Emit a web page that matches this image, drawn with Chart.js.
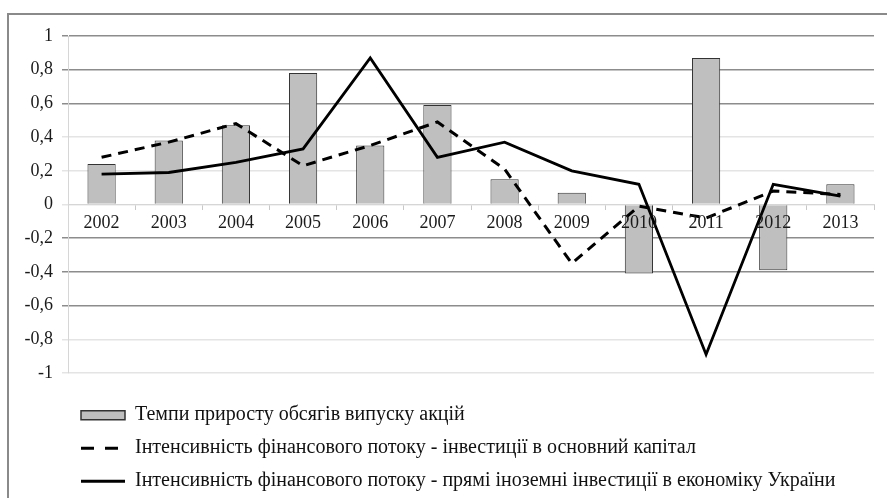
<!DOCTYPE html>
<html>
<head>
<meta charset="utf-8">
<script src="https://cdn.jsdelivr.net/npm/chart.js@4.4.1/dist/chart.umd.min.js"></script>
<style>
  html, body { margin: 0; padding: 0; background: #fff; overflow: hidden; }
  #frame {
    position: absolute; left: 7px; top: 13px; width: 900px; height: 500px;
    border-left: 2px solid #8a8a8a; border-top: 2px solid #8a8a8a;
  }
  #chart { position: absolute; left: 0; top: 0; }
</style>
</head>
<body>
<div id="frame"></div>
<canvas id="chart" width="887" height="498"></canvas>
<script>
const years = ["2002", "2003", "2004", "2005", "2006", "2007", "2008", "2009", "2010", "2011", "2012", "2013"];
const sharesGrowth = [0.24, 0.38, 0.47, 0.78, 0.35, 0.59, 0.15, 0.07, -0.41, 0.87, -0.39, 0.12];
const fixedCapital = [0.28, 0.37, 0.48, 0.23, 0.35, 0.49, 0.21, -0.35, -0.01, -0.08, 0.08, 0.06];
const foreignInvest = [0.18, 0.19, 0.25, 0.33, 0.87, 0.28, 0.37, 0.20, 0.12, -0.89, 0.12, 0.05];

const seriesNames = [
    "Темпи приросту обсягів випуску акцій",
    "Інтенсивність фінансового потоку - інвестиції в основний капітал",
    "Інтенсивність фінансового потоку - прямі іноземні інвестиції в економіку України"
];

// gridlines that come out darker in the printed chart
const darkTicks = [1, 0.8, 0.6, -0.2, -0.4, -0.6];

const serif = "'Liberation Serif', 'Times New Roman', serif";

const ctx = document.getElementById("chart").getContext("2d");
new Chart(ctx, {
    type: "bar",
    data: {
        labels: years,
        datasets: [{
            type: "bar",
            label: seriesNames[0],
            data: sharesGrowth,
            backgroundColor: "#bfbfbf",
            borderColor: "#333",
            borderWidth: 1,
            barPercentage: 0.42,
            categoryPercentage: 1,
            pointStyle: "rect",
            order: 2
        }, {
            type: "line",
            label: seriesNames[1],
            data: fixedCapital,
            borderColor: "#000",
            backgroundColor: "#000",
            borderWidth: 3,
            borderDash: [10, 7],
            pointRadius: 0,
            pointStyle: "line",
            tension: 0,
            order: 1
        }, {
            type: "line",
            label: seriesNames[2],
            data: foreignInvest,
            borderColor: "#000",
            backgroundColor: "#000",
            borderWidth: 2.8,
            pointRadius: 0,
            pointStyle: "line",
            tension: 0,
            order: 0
        }]
    },
    options: {
        responsive: false,
        animation: false,
        layout: {
            padding: { left: 0, right: 13, top: 36, bottom: 0 }
        },
        scales: {
            x: {
                position: { y: 0 },
                offset: true,
                grid: {
                    offset: true,
                    drawOnChartArea: false,
                    tickLength: 5,
                    color: "#c8c8c8"
                },
                border: { color: "#d6d6d6", width: 1 },
                ticks: {
                    z: 1,
                    padding: 3,
                    color: "#1a1a1a",
                    font: { family: serif, size: 18 }
                }
            },
            y: {
                min: -1,
                max: 1,
                afterFit: (scale) => { scale.width = 68; },
                grid: {
                    tickLength: 6,
                    color: (c) => {
                        const v = Math.round(c.tick.value * 10) / 10;
                        return darkTicks.includes(v) ? "#8c8c8c" : "#e4e4e4";
                    },
                    lineWidth: 1.5
                },
                border: { color: "#d6d6d6", width: 1 },
                ticks: {
                    stepSize: 0.2,
                    padding: 9,
                    color: "#1a1a1a",
                    font: { family: serif, size: 18 },
                    callback: (v) => String(Math.round(v * 10) / 10).replace(".", ",")
                }
            }
        },
        plugins: {
            tooltip: { enabled: false },
            legend: {
                position: "bottom",
                align: "start",
                fullSize: false,
                maxHeight: 125,
                title: { display: true, text: "", padding: { top: 9, bottom: 9 }, font: { size: 1 } },
                labels: {
                    usePointStyle: true,
                    pointStyleWidth: 44,
                    boxHeight: 9,
                    padding: 13,
                    color: "#111",
                    font: { family: serif, size: 20 },
                    sort: (a, b) => a.datasetIndex - b.datasetIndex,
                    generateLabels: (chart) => {
                        const items = Chart.defaults.plugins.legend.labels.generateLabels(chart);
                        items.forEach(item => {
                            const ds = chart.data.datasets[item.datasetIndex];
                            if (ds.type === "line") {
                                item.lineDash = ds.borderDash ? [13, 11] : [];
                                item.lineWidth = 3;
                                item.strokeStyle = "#000";
                            } else {
                                item.lineWidth = 1.5;
                            }
                        });
                        return items;
                    }
                }
            }
        }
    }
});
</script>
</body>
</html>
